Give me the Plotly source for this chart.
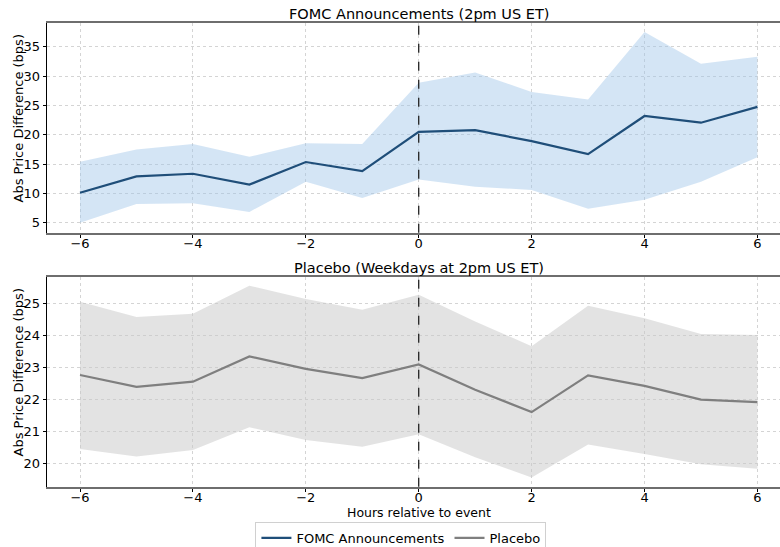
import plotly.graph_objects as go

hours = [-6, -5, -4, -3, -2, -1, 0, 1, 2, 3, 4, 5, 6]

fomc_mean = [10.1, 12.9, 13.35, 11.5, 15.35, 13.8, 20.5, 20.8, 18.9, 16.7, 23.2, 22.05, 24.75]
fomc_upper = [15.4, 17.5, 18.4, 16.25, 18.55, 18.4, 28.85, 30.6, 27.3, 26.0, 37.5, 32.1, 33.3]
fomc_lower = [5.0, 8.2, 8.3, 6.85, 12.0, 9.2, 12.35, 11.15, 10.6, 7.4, 8.9, 12.0, 16.15]

placebo_mean = [22.76, 22.39, 22.55, 23.34, 22.95, 22.66, 23.09, 22.30, 21.60, 22.75, 22.42, 21.99, 21.91]
placebo_upper = [25.05, 24.57, 24.67, 25.55, 25.13, 24.80, 25.27, 24.43, 23.66, 24.92, 24.53, 24.04, 24.01]
placebo_lower = [20.45, 20.21, 20.42, 21.13, 20.73, 20.52, 20.91, 20.19, 19.56, 20.59, 20.29, 19.97, 19.83]

titles = ["FOMC Announcements (2pm US ET)", "Placebo (Weekdays at 2pm US ET)"]
ylabel = "Abs Price Difference (bps)"
xlabel = "Hours relative to event"

W, H = 780, 547
FONT = "DejaVu Sans"

fig = go.Figure()

def add_panel(mean, upper, lower, line_color, fill_color, name, xa, ya):
    fig.add_trace(go.Scatter(x=hours, y=upper, mode="lines", line=dict(width=0, color=fill_color),
                             showlegend=False, hoverinfo="skip", xaxis=xa, yaxis=ya))
    fig.add_trace(go.Scatter(x=hours, y=lower, mode="lines", line=dict(width=0, color=fill_color),
                             fill="tonexty", fillcolor=fill_color,
                             showlegend=False, hoverinfo="skip", xaxis=xa, yaxis=ya))
    fig.add_trace(go.Scatter(x=hours, y=mean, mode="lines", line=dict(width=2.2, color=line_color),
                             name=name, xaxis=xa, yaxis=ya))

add_panel(fomc_mean, fomc_upper, fomc_lower, "#1f4e79", "rgba(160,198,232,0.45)", "FOMC Announcements", "x", "y")
add_panel(placebo_mean, placebo_upper, placebo_lower, "#7f7f7f", "rgba(200,200,200,0.5)", "Placebo", "x2", "y2")

x0 = 46.7 / W
top_dom = [1 - 232.7 / H, 1 - 22.7 / H]
bot_dom = [1 - 486.7 / H, 1 - 276.7 / H]
xrange_ = [-6.59, 6.4]

axis_common_x = dict(range=xrange_, tickvals=[-6, -4, -2, 0, 2, 4, 6], showgrid=True,
                     gridcolor="#d4d4d4", griddash="dot", gridwidth=1, zeroline=False,
                     showline=True, linecolor="#6e6e6e", linewidth=2, mirror=True,
                     ticks="outside", ticklen=3, tickcolor="#000", tickwidth=1,
                     ticklabelstandoff=-5,
                     tickfont=dict(family=FONT, size=13, color="#000"),
                     domain=[x0, 1], automargin=False)
axis_common_y = dict(showgrid=True, gridcolor="#d4d4d4", griddash="dot", gridwidth=1,
                     zeroline=False, showline=True, linecolor="#000", linewidth=1,
                     ticks="outside", ticklen=3, tickcolor="#000", tickwidth=1,
                     tickfont=dict(family=FONT, size=13, color="#000"), automargin=False)

fig.update_layout(
    width=W, height=H,
    margin=dict(l=0, r=0, t=0, b=0, autoexpand=False),
    paper_bgcolor="white", plot_bgcolor="white",
    font=dict(family=FONT, color="#000"),
    xaxis=dict(anchor="y", **axis_common_x),
    yaxis=dict(anchor="x", domain=top_dom, range=[3.3, 39.1], tickvals=[5, 10, 15, 20, 25, 30, 35], **axis_common_y),
    xaxis2=dict(anchor="y2", **axis_common_x),
    yaxis2=dict(anchor="x2", domain=bot_dom, range=[19.27, 25.83], tickvals=[20, 21, 22, 23, 24, 25], **axis_common_y),
    legend=dict(orientation="h", x=0.514, xanchor="center", y=1 - 522 / H, yanchor="top",
                bordercolor="#d0d0d0", borderwidth=1, font=dict(family=FONT, size=13),
                traceorder="normal", itemwidth=30),
    showlegend=True,
)

# vertical dashed line at event time
for xa, ya in [("x", "y"), ("x2", "y2")]:
    fig.add_shape(type="line", xref=xa, yref=f"{ya} domain", x0=0, x1=0, y0=0, y1=1,
                  line=dict(color="#222", width=1.3, dash="dash"))

# titles
xc = (46.7 + 791) / 2 / W
fig.add_annotation(text=titles[0], x=xc, y=1 - 14 / H, xref="paper", yref="paper",
                   showarrow=False, font=dict(family=FONT, size=14.5), xanchor="center", yanchor="middle")
fig.add_annotation(text=titles[1], x=xc, y=1 - 268 / H, xref="paper", yref="paper",
                   showarrow=False, font=dict(family=FONT, size=14.5), xanchor="center", yanchor="middle")
# y labels
for yc in [118.5, 372.5]:
    fig.add_annotation(text=ylabel, x=18 / W, y=1 - yc / H, xref="paper", yref="paper",
                       showarrow=False, textangle=-90, font=dict(family=FONT, size=13),
                       xanchor="center", yanchor="middle")
# x label
fig.add_annotation(text=xlabel, x=xc, y=1 - 512 / H, xref="paper", yref="paper",
                   showarrow=False, font=dict(family=FONT, size=12.5), xanchor="center", yanchor="middle")

fig.write_html("out.html", config={"displayModeBar": False},
               post_script="document.body.style.margin='0';document.body.style.overflow='hidden';")
